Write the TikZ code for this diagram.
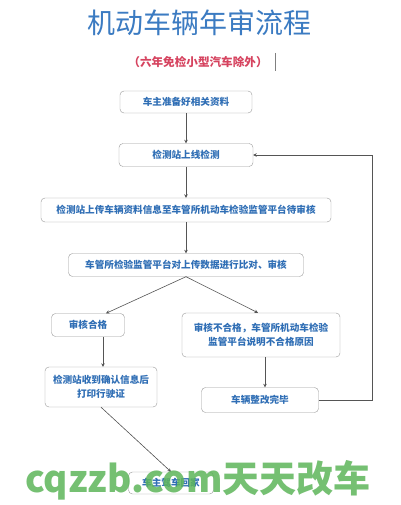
\documentclass[tikz,border=0pt]{standalone}
\usepackage{fontspec}
\usepackage{tikz}
\usetikzlibrary{shapes,arrows.meta}
\usetikzlibrary{positioning}
\setmainfont{Noto Sans CJK SC}
\definecolor{boxblue}{HTML}{2F6EB5}
\definecolor{titleblue}{HTML}{3B7BC2}
\definecolor{subred}{HTML}{D6435F}
\definecolor{linegray}{HTML}{555555}
\definecolor{wmgreen}{HTML}{5DB55A}
\tikzstyle{stepbox} = [draw=gray!80, rounded corners=4pt, fill=white,
    text=boxblue, font=\bfseries\fontsize{9.6}{14}\selectfont,
    align=center, inner sep=2pt]
\tikzstyle{flow} = [-{Stealth[length=3.5pt,width=3.5pt]}, linegray, line width=0.6pt]

\begin{document}
\begin{tikzpicture}[x=1pt, y=1pt, node distance = 55pt]
  \useasboundingbox[fill=white] (0,0) rectangle (400,-505);
  \node [text=titleblue, font=\fontsize{28}{32}\selectfont] (title) at (199,-23) {机动车辆年审流程};
  \node [text=subred, font=\bfseries\fontsize{11.6}{14}\selectfont] (sub) at (198,-62) {（六年免检小型汽车除外）};
  \draw [gray, line width=0.6pt] (275,-53) -- (275,-71);
  \node [stepbox, minimum width=132pt, minimum height=22pt] (b1) at (186,-102) {车主准备好相关资料};
  \node [stepbox, minimum width=134pt, minimum height=23pt, below of=b1, node distance=53pt] (b2) {检测站上线检测};
  \node [stepbox, minimum width=290pt, minimum height=24pt, below of=b2] (b3) {检测站上传车辆资料信息至车管所机动车检验监管平台待审核};
  \node [stepbox, minimum width=235pt, minimum height=23pt, below of=b3] (b4) {车管所检验监管平台对上传数据进行比对、审核};
  \node [stepbox, minimum width=73pt, minimum height=23pt] (b5) at (88,-325) {审核合格};
  \node [stepbox, minimum width=158pt, minimum height=44pt] (b6) at (261,-335) {审核不合格，车管所机动车检验\\监管平台说明不合格原因};
  \node [stepbox, minimum width=112pt, minimum height=40pt] (b7) at (101,-387) {检测站收到确认信息后\\打印行驶证};
  \node [stepbox, minimum width=117pt, minimum height=25pt] (b8) at (260,-400) {车辆整改完毕};
  \node [stepbox, minimum width=85pt, minimum height=22pt] (b9) at (171,-483) {车主驾车回家};
  \draw [flow] (b1) -- (b2);
  \draw [flow] (b2) -- (b3);
  \draw [flow] (b3) -- (b4);
  \draw [flow] (b4.south) -- ([xshift=18pt]b5.north);
  \draw [flow] (b4.south) -- ([xshift=-3pt]b6.north);
  \draw [flow] ([xshift=15pt]b5.south) -- ([xshift=15pt]b5.south |- b7.north);
  \draw [flow] ([xshift=4pt]b6.south) -- ([xshift=4pt]b6.south |- b8.north);
  \draw [flow] (b7.south) -- (b9.north);
  \draw [flow] (b8.east) -- ++(54,0) |- (b2.east);
  % watermark
  \node [text=wmgreen, opacity=0.85, font=\bfseries\fontsize{37}{40}\selectfont, inner sep=0pt] (wm) at (198,-480) {cqzzb.com天天改车};
\end{tikzpicture}
\end{document}
